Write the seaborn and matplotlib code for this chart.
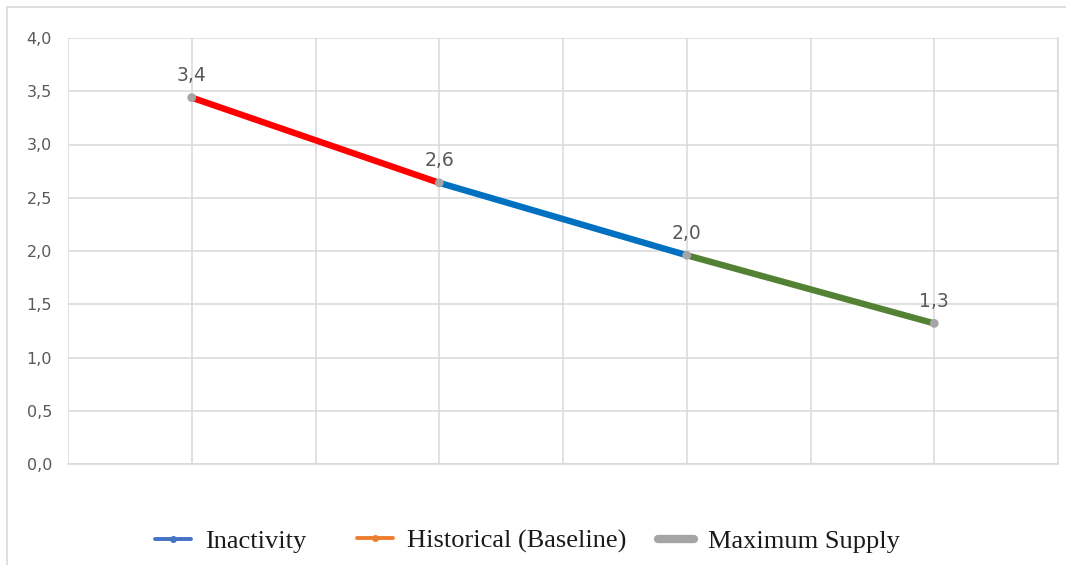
import matplotlib
matplotlib.use("Agg")
import matplotlib.pyplot as plt
from matplotlib.lines import Line2D
import seaborn as sns
import pandas as pd

# Scenario values along the path
steps = [1, 2, 3, 4]
values = [3.44, 2.64, 1.96, 1.32]

# Each coloured segment joins two consecutive steps
segment_names = ["Historical", "Inactivity", "Maximum Supply"]
segment_colors = ["#FF0000", "#0070C0", "#548235"]

# Legend entries
legend_labels = ["Inactivity", "Historical (Baseline)", "Maximum Supply"]
legend_colors = ["#4472C4", "#ED7D31", "#A5A5A5"]

y_ticks = [0.0, 0.5, 1.0, 1.5, 2.0, 2.5, 3.0, 3.5, 4.0]

rows = []
for i, name in enumerate(segment_names):
    for j in (i, i + 1):
        rows.append({"segment": name, "x": steps[j], "y": values[j]})
seg_df = pd.DataFrame(rows)
pts_df = pd.DataFrame({"x": steps, "y": values})

sns.set_theme(style="white")
plt.rcParams["font.family"] = ["DejaVu Sans"]

W, H = 1066, 565
fig = plt.figure(figsize=(W / 100, H / 100), dpi=100)
ax = fig.add_axes([68 / W, 1 - 464 / H, 990 / W, 426 / H])

sns.lineplot(data=seg_df, x="x", y="y", hue="segment", hue_order=segment_names,
             palette=segment_colors, linewidth=4.6, legend=False, ax=ax,
             solid_capstyle="butt", zorder=3)
sns.scatterplot(data=pts_df, x="x", y="y", color="#A5A5A5", s=40,
                edgecolor="none", ax=ax, zorder=4, legend=False)

for xv, yv in zip(steps, values):
    ax.annotate(f"{yv:.1f}".replace(".", ","), (xv, yv), xytext=(0, 12),
                textcoords="offset points", ha="center", va="baseline",
                fontsize=13.5, color="#595959")

ax.set_xlim(0.5, 4.5)
ax.set_ylim(0, 4.0)
ax.set_xticks([0.5 + 0.5 * k for k in range(9)])
ax.set_xticklabels([])
ax.set_yticks(y_ticks)
ax.set_yticklabels([f"{t:.1f}".replace(".", ",") for t in y_ticks])
ax.tick_params(axis="y", length=0, labelsize=11.5, labelcolor="#595959", pad=11.5)
ax.tick_params(axis="x", length=0)
ax.grid(True, color="#D9D9D9", linewidth=1.1)
ax.set_axisbelow(True)
for side, sp in ax.spines.items():
    sp.set_visible(side in ("bottom", "right"))
    sp.set_color("#D9D9D9")
    sp.set_linewidth(1.1)
ax.set_xlabel("")
ax.set_ylabel("")

# Outer chart border (top and left edges)
fig.add_artist(Line2D([7 / W, 1.0], [1 - 7 / H, 1 - 7 / H], transform=fig.transFigure,
                      color="#D9D9D9", linewidth=1.2))
fig.add_artist(Line2D([7 / W, 7 / W], [0.0, 1 - 7 / H], transform=fig.transFigure,
                      color="#D9D9D9", linewidth=1.2))

handles = [
    Line2D([], [], color=legend_colors[0], linewidth=2.8, marker="o", markersize=4),
    Line2D([], [], color=legend_colors[1], linewidth=2.8, marker="o", markersize=4),
    Line2D([], [], color=legend_colors[2], linewidth=6),
]
legend_x = [155, 357, 658]
for h, lab, lx in zip(handles, legend_labels, legend_x):
    fig.legend([h], [lab], loc="center left", bbox_to_anchor=(lx / W, 1 - 541 / H),
               frameon=False, borderpad=0, borderaxespad=0,
               handlelength=1.35, handletextpad=0.55, labelcolor="#1A1A1A",
               prop={"family": "Liberation Serif", "size": 19})

fig.savefig("out.png", dpi=100)
